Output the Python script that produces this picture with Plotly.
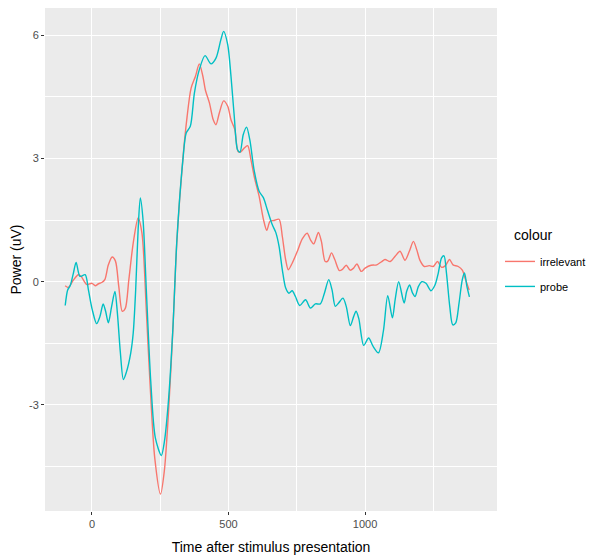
import plotly.graph_objects as go

# ---- data ----
probe_t = [-98, -89, -80, -68, -58, -44, -25, -13, 1, 17, 29, 41, 50, 60, 72, 84, 93, 104, 115, 126,
           142, 151, 160, 169, 177, 187, 199, 215, 232, 254, 265, 280, 296, 311, 333, 345, 360, 375,
           393, 414, 436, 454, 472, 482, 497, 509, 521, 533, 542, 554, 566, 578, 594, 612, 628, 642,
           660, 673, 685, 697, 709, 721, 733, 745, 761, 782, 800, 818, 836, 851, 867, 879, 891, 903,
           919, 931, 946, 958, 967, 977, 995, 1013, 1029, 1049, 1067, 1083, 1100, 1110, 1123, 1143,
           1152, 1163, 1174, 1183, 1195, 1208, 1223, 1241, 1256, 1268, 1280, 1289, 1298, 1310, 1321,
           1332, 1344, 1356, 1364, 1373, 1382]
probe_v = [-0.58, -0.2, -0.1, 0.21, 0.47, 0.13, 0.17, -0.2, -0.68, -1.02, -0.85, -0.54, -0.72, -1.0,
           -0.6, -0.24, -0.76, -1.73, -2.38, -2.2, -1.73, -1.25, -0.2, 1.27, 2.04, 1.5, -0.2, -2.4,
           -3.8, -4.23, -3.9, -2.9, -1.17, 1.02, 2.97, 3.62, 3.78, 4.59, 5.16, 5.5, 5.3, 5.44, 5.89,
           6.09, 5.77, 5.0, 4.02, 3.21, 3.15, 3.58, 3.76, 3.45, 2.7, 2.2, 2.04, 1.75, 1.39, 1.2, 0.86,
           0.29, -0.15, -0.28, -0.22, -0.36, -0.58, -0.44, -0.64, -0.54, -0.54, -0.28, 0.05, -0.2,
           -0.6, -0.52, -0.4, -0.6, -1.07, -0.85, -0.72, -0.9, -1.55, -1.37, -1.57, -1.73, -1.2,
           -0.34, -0.88, -0.44, 0.0, -0.52, -0.24, -0.08, -0.28, -0.36, -0.12, 0.0, -0.04, -0.22,
           -0.08, 0.21, 0.58, 0.63, 0.21, -0.6, -1.05, -1.0, -0.52, 0.05, 0.21, -0.12, -0.37]

irrelevant_t = [-98, -87, -68, -50, -40, -19, 0, 12, 24, 36, 47, 60, 74, 86, 98, 111, 122, 135, 151,
                169, 183, 199, 212, 230, 251, 265, 280, 296, 311, 333, 348, 363, 379, 393, 406, 415,
                430, 444, 454, 466, 482, 497, 509, 523, 535, 545, 557, 570, 582, 596, 612, 628, 640,
                652, 667, 685, 697, 709, 719, 733, 752, 770, 788, 800, 812, 829, 840, 854, 863, 877,
                889, 906, 917, 931, 945, 958, 970, 986, 1000, 1022, 1043, 1061, 1073, 1092, 1110,
                1128, 1146, 1162, 1177, 1189, 1201, 1217, 1235, 1250, 1265, 1280, 1294, 1309, 1322,
                1341, 1356, 1368, 1381]
irrelevant_v = [-0.1, -0.14, 0.04, 0.17, 0.13, -0.07, -0.04, -0.1, -0.05, -0.02, 0.05, 0.41, 0.6,
                0.5, -0.11, -0.72, -0.65, 0.05, 0.94, 1.55, 1.18, -0.7, -2.4, -4.3, -5.17, -4.6,
                -3.2, -1.2, 1.0, 3.0, 4.0, 4.71, 5.0, 5.3, 5.0, 4.67, 4.35, 3.94, 3.82, 4.1, 4.4,
                4.27, 3.94, 3.7, 3.17, 3.16, 3.25, 3.31, 2.97, 2.5, 2.08, 1.51, 1.25, 1.47, 1.49,
                1.52, 1.1, 0.54, 0.29, 0.45, 0.74, 1.04, 1.18, 1.02, 0.92, 1.2, 0.98, 0.49, 0.5,
                0.7, 0.54, 0.27, 0.3, 0.4, 0.28, 0.33, 0.43, 0.25, 0.33, 0.4, 0.41, 0.49, 0.54,
                0.49, 0.62, 0.74, 0.52, 0.74, 0.98, 0.78, 0.52, 0.37, 0.39, 0.37, 0.49, 0.35, 0.39,
                0.54, 0.41, 0.37, 0.28, 0.05, -0.2]

x_ticks = [0, 500, 1000]
x_ticktext = ["0", "500", "1000"]
y_ticks = [-3, 0, 3, 6]
y_ticktext = ["-3", "0", "3", "6"]
legend_title = "colour"

FONT = "Liberation Sans, Arial, sans-serif"
RED = "#F8766D"
CYAN = "#00BFC4"

fig = go.Figure()
fig.add_trace(go.Scatter(x=irrelevant_t, y=irrelevant_v, mode="lines", name="irrelevant",
                         legendgroup="a",
                         line=dict(color=RED, width=1.4, shape="spline", smoothing=0.8)))
fig.add_trace(go.Scatter(x=probe_t, y=probe_v, mode="lines", name="probe",
                         legendgroup="b",
                         line=dict(color=CYAN, width=1.4, shape="spline", smoothing=0.8)))

axis_common = dict(
    showgrid=True, gridcolor="white", gridwidth=1.1, zeroline=False, showline=False,
    ticks="outside", ticklen=3, tickwidth=1, tickcolor="#333333", automargin=False,
    tickfont=dict(family=FONT, size=11, color="#4D4D4D"),
)

fig.update_layout(
    width=592, height=556,
    margin=dict(l=45, r=95, t=8, b=45, autoexpand=False),
    paper_bgcolor="white", plot_bgcolor="#EBEBEB",
    font=dict(family=FONT, color="black"),
    xaxis=dict(range=[-172, 1483], tickvals=x_ticks, ticktext=x_ticktext,
               minor=dict(tick0=250, dtick=500, showgrid=True, gridcolor="white", gridwidth=0.5,
                          ticks=""),
               title=dict(text="Time after stimulus presentation", font=dict(size=14, family=FONT),
                          standoff=12),
               **axis_common),
    yaxis=dict(range=[-5.58, 6.66], tickvals=y_ticks, ticktext=y_ticktext,
               minor=dict(tick0=1.5, dtick=3, showgrid=True, gridcolor="white", gridwidth=0.5,
                          ticks=""),
               title=dict(text="Power (uV)", font=dict(size=14, family=FONT), standoff=4),
               **axis_common),
    legend=dict(x=1.0066, xanchor="left", y=0.525, yanchor="top",
                font=dict(size=11, family=FONT, color="black"),
                tracegroupgap=6, traceorder="grouped",
                bgcolor="rgba(0,0,0,0)", itemwidth=30),
    annotations=[dict(text=legend_title, xref="paper", yref="paper", x=1.033, y=0.528,
                      xanchor="left", yanchor="bottom", showarrow=False,
                      font=dict(size=14, family=FONT, color="black"))],
    showlegend=True,
)

fig.write_html("out.html", config={"displayModeBar": False},
               post_script="document.body.style.margin='0px';")
